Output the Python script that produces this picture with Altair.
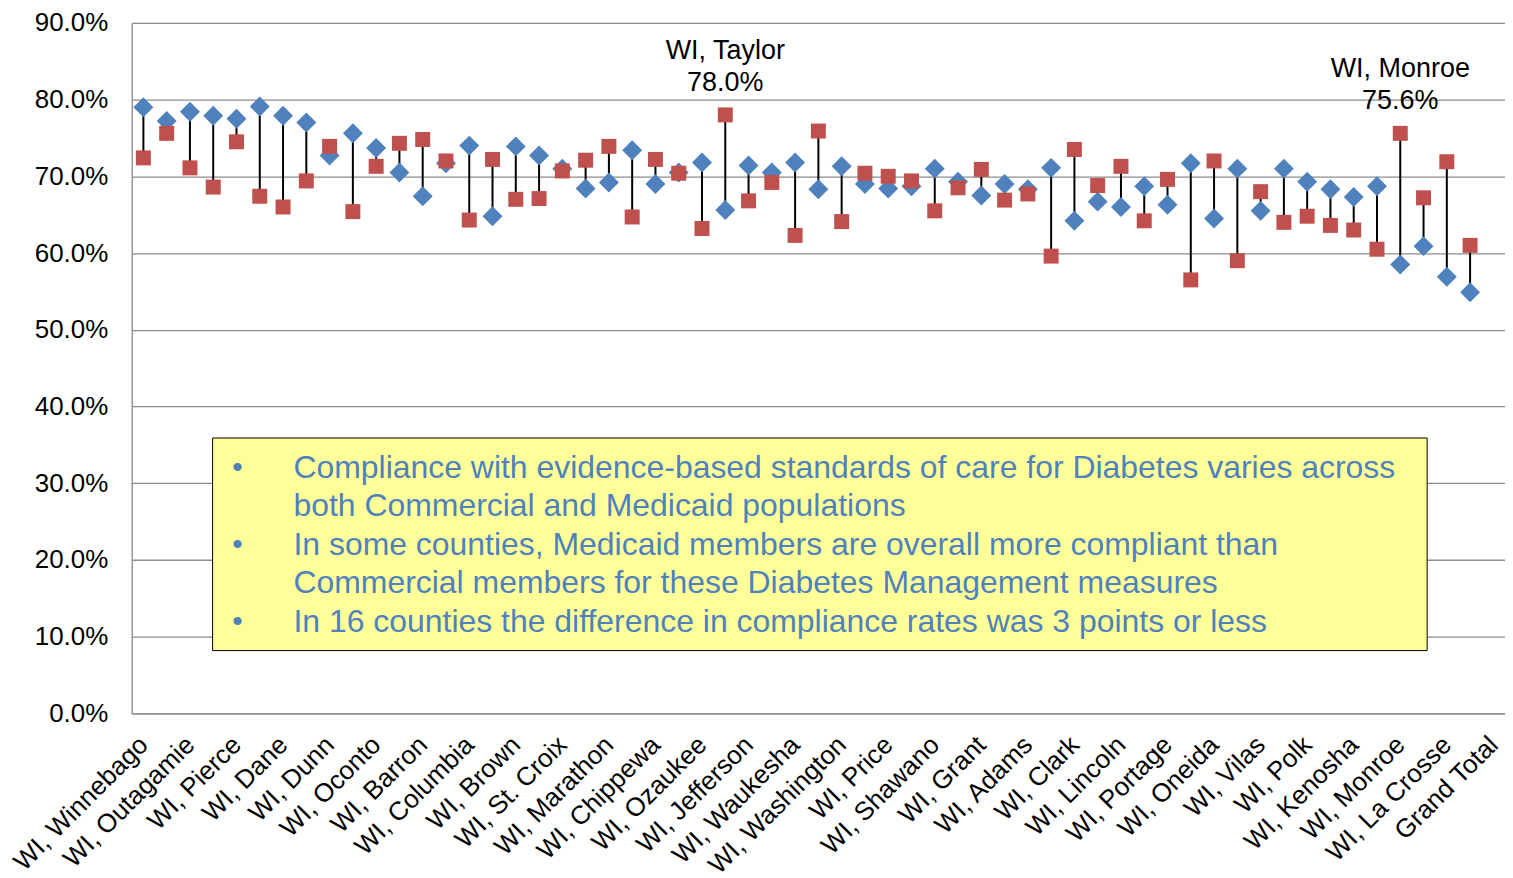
import altair as alt
import pandas as pd

# ---- data ----
categories = [
    "WI, Winnebago", "county 01", "WI, Outagamie", "county 03", "WI, Pierce", "county 05",
    "WI, Dane", "county 07", "WI, Dunn", "county 09", "WI, Oconto", "county 11",
    "WI, Barron", "county 13", "WI, Columbia", "county 15", "WI, Brown", "county 17",
    "WI, St. Croix", "county 19", "WI, Marathon", "county 21", "WI, Chippewa", "county 23",
    "WI, Ozaukee", "WI, Taylor", "WI, Jefferson", "county 27", "WI, Waukesha", "county 29",
    "WI, Washington", "county 31", "WI, Price", "county 33", "WI, Shawano", "county 35",
    "WI, Grant", "county 37", "WI, Adams", "county 39", "WI, Clark", "county 41",
    "WI, Lincoln", "county 43", "WI, Portage", "county 45", "WI, Oneida", "county 47",
    "WI, Vilas", "county 49", "WI, Polk", "county 51", "WI, Kenosha", "county 53",
    "WI, Monroe", "county 55", "WI, La Crosse", "county 57", "Grand Total",
]

# blue diamonds (percent)
series_blue = [
    79.0, 77.2, 78.4, 77.9, 77.5, 79.1, 77.9, 77.0, 72.7, 75.6,
    73.7, 70.5, 67.4, 71.7, 74.0, 64.8, 73.9, 72.7, 71.0, 68.4,
    69.2, 73.4, 69.0, 70.5, 71.8, 65.6, 71.4, 70.5, 71.8, 68.3,
    71.3, 69.0, 68.4, 68.7, 71.0, 69.3, 67.5, 69.0, 68.3, 71.1,
    64.2, 66.7, 66.0, 68.7, 66.3, 71.7, 64.5, 71.0, 65.5, 71.0,
    69.3, 68.3, 67.3, 68.7, 58.5, 60.9, 56.9, 54.9, None,
]

# red squares (percent)
series_red = [
    72.4, 75.6, 71.1, 68.6, 74.5, 67.4, 66.0, 69.4, 73.9, 65.4,
    71.3, 74.3, 74.8, 72.0, 64.3, 72.2, 67.0, 67.1, 70.7, 72.1,
    73.9, 64.7, 72.2, 70.4, 63.2, 78.0, 66.8, 69.2, 62.3, 75.9,
    64.1, 70.4, 70.0, 69.4, 65.5, 68.5, 70.9, 66.9, 67.7, 59.6,
    73.5, 68.8, 71.3, 64.2, 69.6, 56.5, 72.0, 59.0, 68.0, 64.0,
    64.8, 63.6, 63.0, 60.5, 75.6, 67.2, 71.9, 61.0, None,
]

tick_labels = [c for i, c in enumerate(categories) if i % 2 == 0]

annot_counties = ["WI, Taylor", "WI, Monroe"]
annot_values = [78.0, 75.6]

box_lines = [
    "Compliance with evidence-based standards of care for Diabetes varies across",
    "both Commercial and Medicaid populations",
    "In some counties, Medicaid members are overall more compliant than",
    "Commercial members for these Diabetes Management measures",
    "In 16 counties the difference in compliance rates was 3 points or less",
]
bullets = ["•", "•", "•"]

# ---- tables ----
def frac(v):
    return None if v is None else v / 100.0

df = pd.DataFrame({
    "county": categories,
    "blue": [frac(v) for v in series_blue],
    "red": [frac(v) for v in series_red],
})
ann = pd.DataFrame({"county": annot_counties, "val": [frac(v) for v in annot_values]})
one = pd.DataFrame({"k": [0]})

FONT = "Liberation Sans"
BLUE = "#4F81BD"
RED = "#C0504D"
GRID = "#8C8C8C"
TXT_BLUE = "#4F81BD"

xscale = alt.Scale(type="point", domain=categories, padding=0.5)
yscale = alt.Scale(domain=[0, 0.9], nice=False, zero=True)

x_enc = alt.X(
    "county:N", sort=categories, scale=xscale, title=None,
    axis=alt.Axis(values=tick_labels, labelAngle=-45, labelAlign="right",
                  labelBaseline="middle", labelPadding=27, ticks=False, tickSize=0,
                  labelFontSize=26, labelColor="black", labelFont=FONT,
                  domainColor=GRID, domainWidth=1.3, grid=False, labelOverlap=False,
                  labelLimit=0),
)
y_axis = alt.Axis(values=[i / 10 for i in range(10)], format=".1%", grid=True,
                  gridColor=GRID, gridWidth=1.3, domainColor=GRID, domainWidth=1.3,
                  ticks=False, tickSize=0, labelPadding=24, labelFontSize=26,
                  labelColor="black", labelFont=FONT, title=None)

box = alt.Chart(one).mark_rect(fill="#FFFF99", stroke="black", strokeWidth=1).encode(
    x=alt.value(81), x2=alt.value(1298), y=alt.value(416), y2=alt.value(629)
)
bullet_txt = alt.Chart(one).mark_text(
    align="center", baseline="middle", fontSize=30, color=TXT_BLUE, font=FONT,
    lineBreak="\n", lineHeight=77,
).encode(x=alt.value(106), y=alt.value(446), text=alt.value("\n".join(bullets)))
box_txt = alt.Chart(one).mark_text(
    align="left", baseline="middle", fontSize=32, color=TXT_BLUE, font=FONT,
    lineBreak="\n", lineHeight=38.5,
).encode(x=alt.value(162), y=alt.value(446), text=alt.value("\n".join(box_lines)))

base = alt.Chart(df)
rule = base.mark_rule(color="black", strokeWidth=2).encode(
    x=x_enc, y=alt.Y("blue:Q", scale=yscale, axis=y_axis), y2="red:Q"
)
blue = base.mark_point(shape="diamond", filled=True, size=400, color=BLUE, opacity=1,
                       strokeWidth=0).encode(
    x=x_enc, y=alt.Y("blue:Q", scale=yscale, axis=y_axis)
)
red = base.mark_point(shape="square", filled=True, size=225, color=RED, opacity=1,
                      strokeWidth=0).encode(
    x=x_enc, y=alt.Y("red:Q", scale=yscale, axis=y_axis)
)
ann_name = alt.Chart(ann).mark_text(fontSize=27, font=FONT, color="black",
                                    baseline="middle", dy=-64).encode(
    x=x_enc, y=alt.Y("val:Q", scale=yscale, axis=y_axis), text="county:N"
)
ann_val = alt.Chart(ann).mark_text(fontSize=27, font=FONT, color="black",
                                   baseline="middle", dy=-32).encode(
    x=x_enc, y=alt.Y("val:Q", scale=yscale, axis=y_axis),
    text=alt.Text("val:Q", format=".1%")
)

chart = alt.layer(rule, blue, red, box, bullet_txt, box_txt, ann_name, ann_val).properties(
    width=1376, height=692,
    autosize=alt.AutoSizeParams(type="none"),
    padding={"left": 124, "top": 14, "right": 0, "bottom": 160},
    background="white",
).configure_view(stroke=None).configure(font=FONT)

chart.save("out.html", embed_options={"renderer": "svg", "actions": False})
